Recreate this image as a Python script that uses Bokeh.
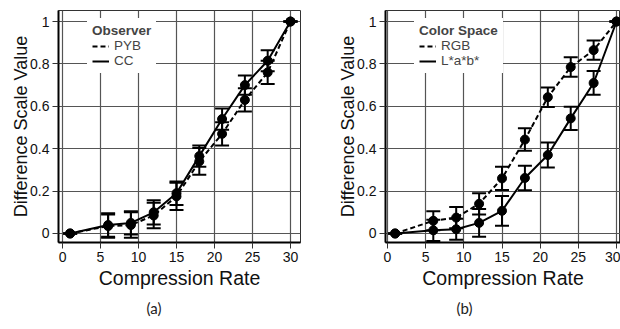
from bokeh.plotting import figure
from bokeh.models import (Range1d, Whisker, TeeHead, ColumnDataSource, Legend,
                          LegendItem, Title, FixedTicker, NumeralTickFormatter)
from bokeh.layouts import row
from bokeh.embed import file_html
from bokeh.resources import INLINE

# ---- data ----
rates = [1, 6, 9, 12, 15, 18, 21, 24, 27, 30]

pyb = [0, 0.035, 0.04, 0.085, 0.175, 0.34, 0.47, 0.63, 0.76, 1.0]
pyb_err = [0, 0.055, 0.06, 0.06, 0.064, 0.063, 0.055, 0.055, 0.055, 0]
cc = [0, 0.04, 0.05, 0.10, 0.19, 0.365, 0.54, 0.70, 0.815, 1.0]
cc_err = [0, 0.055, 0.055, 0.057, 0.055, 0.05, 0.05, 0.045, 0.05, 0]

rgb = [0, 0.06, 0.075, 0.14, 0.26, 0.443, 0.643, 0.785, 0.865, 1.0]
rgb_err = [0, 0.045, 0.05, 0.05, 0.055, 0.053, 0.046, 0.046, 0.045, 0]
lab = [0, 0.015, 0.02, 0.05, 0.107, 0.262, 0.37, 0.543, 0.71, 1.0]
lab_err = [0, 0.05, 0.05, 0.065, 0.07, 0.058, 0.059, 0.055, 0.056, 0]

x_ticks = [0, 5, 10, 15, 20, 25, 30]
y_ticks = [0, 0.2, 0.4, 0.6, 0.8, 1]

FONT = "Liberation Sans"
GRID = "#555555"
HEIGHT = 327


def panel(width, min_right, x_start, x_end, dashed, dashed_err, solid, solid_err,
          names, legend_title, caption, cap_offset, legend_x):
    p = figure(width=width, height=HEIGHT,
               x_range=Range1d(x_start, x_end), y_range=Range1d(-0.0425, 1.052),
               output_backend="svg", toolbar_location=None,
               min_border_left=58 if min_right else 50, min_border_right=min_right,
               min_border_top=10, min_border_bottom=HEIGHT - 10 - 232)
    p.background_fill_color = "white"
    p.outline_line_color = "#333333"
    p.outline_line_width = 1

    p.xaxis.ticker = FixedTicker(ticks=x_ticks)
    p.yaxis.ticker = FixedTicker(ticks=y_ticks)
    p.yaxis.formatter = NumeralTickFormatter(format="0.[0]")
    for ax in (p.xaxis, p.yaxis):
        ax.axis_line_color = "black"
        ax.axis_line_width = 2
        ax.major_tick_line_color = "#333333"
        ax.major_tick_line_width = 1
        ax.major_tick_out = 6
        ax.major_tick_in = 0
        ax.minor_tick_line_color = None
        ax.major_label_text_font = FONT
        ax.major_label_text_font_size = "14px"
        ax.major_label_text_color = "#111111"
        ax.major_label_standoff = 3
        ax.axis_label_text_font = FONT
        ax.axis_label_text_font_style = "normal"
        ax.axis_label_text_color = "#111111"
        ax.axis_label_standoff = 2
    p.yaxis.axis_label_standoff = -4
    p.xaxis.axis_label_text_font_size = "19.5px"
    p.yaxis.axis_label_text_font_size = "18px"
    p.xaxis.axis_label = "Compression Rate"
    p.yaxis.axis_label = "Difference Scale Value"

    p.grid.grid_line_color = GRID
    p.grid.grid_line_width = 1.2

    src_d = ColumnDataSource(dict(x=rates, y=dashed,
                                  lo=[v - e for v, e in zip(dashed, dashed_err)],
                                  hi=[v + e for v, e in zip(dashed, dashed_err)]))
    src_s = ColumnDataSource(dict(x=rates, y=solid,
                                  lo=[v - e for v, e in zip(solid, solid_err)],
                                  hi=[v + e for v, e in zip(solid, solid_err)]))

    ld = p.line("x", "y", source=src_d, line_color="black", line_width=2,
                line_dash="5 3")
    ls = p.line("x", "y", source=src_s, line_color="black", line_width=2)

    for src in (src_d, src_s):
        w = Whisker(source=src, base="x", upper="hi", lower="lo",
                    line_color="black", line_width=2,
                    upper_head=TeeHead(size=14, line_width=2, line_color="black"),
                    lower_head=TeeHead(size=14, line_width=2, line_color="black"))
        p.add_layout(w)
        p.scatter("x", "y", source=src, size=9, color="black")

    legend = Legend(items=[LegendItem(label=names[0], renderers=[ld]),
                           LegendItem(label=names[1], renderers=[ls])],
                    title=legend_title, location=(legend_x, 169))
    legend.title_text_font = FONT
    legend.title_text_font_style = "bold"
    legend.title_text_font_size = "13.5px"
    legend.title_standoff = 0
    legend.label_text_font = FONT
    legend.label_text_font_size = "13.5px"
    legend.glyph_width = 17
    legend.glyph_height = 14
    legend.label_height = 14
    legend.label_standoff = 5
    legend.spacing = 0
    legend.padding = 5
    legend.margin = 0
    legend.border_line_alpha = 0
    legend.background_fill_color = "white"
    legend.background_fill_alpha = 1
    p.add_layout(legend)

    cap = Title(text=caption, align="left", offset=cap_offset,
                text_font="Lato", text_font_size="15px",
                text_font_style="normal", text_color="#222222")
    p.add_layout(cap, "below")
    return p


p1 = panel(335, 35, -0.53, 31.32, pyb, pyb_err, cc, cc_err, ["PYB", "CC"],
           "Observer", "(a)", 88, 29)
p2 = panel(285, 0, -0.26, 30.52, rgb, rgb_err, lab, lab_err, ["RGB", "L*a*b*"],
           "Color Space", "(b)", 71, 29)

layout = row(p1, p2)
open("out.html", "w").write(file_html(layout, INLINE))
